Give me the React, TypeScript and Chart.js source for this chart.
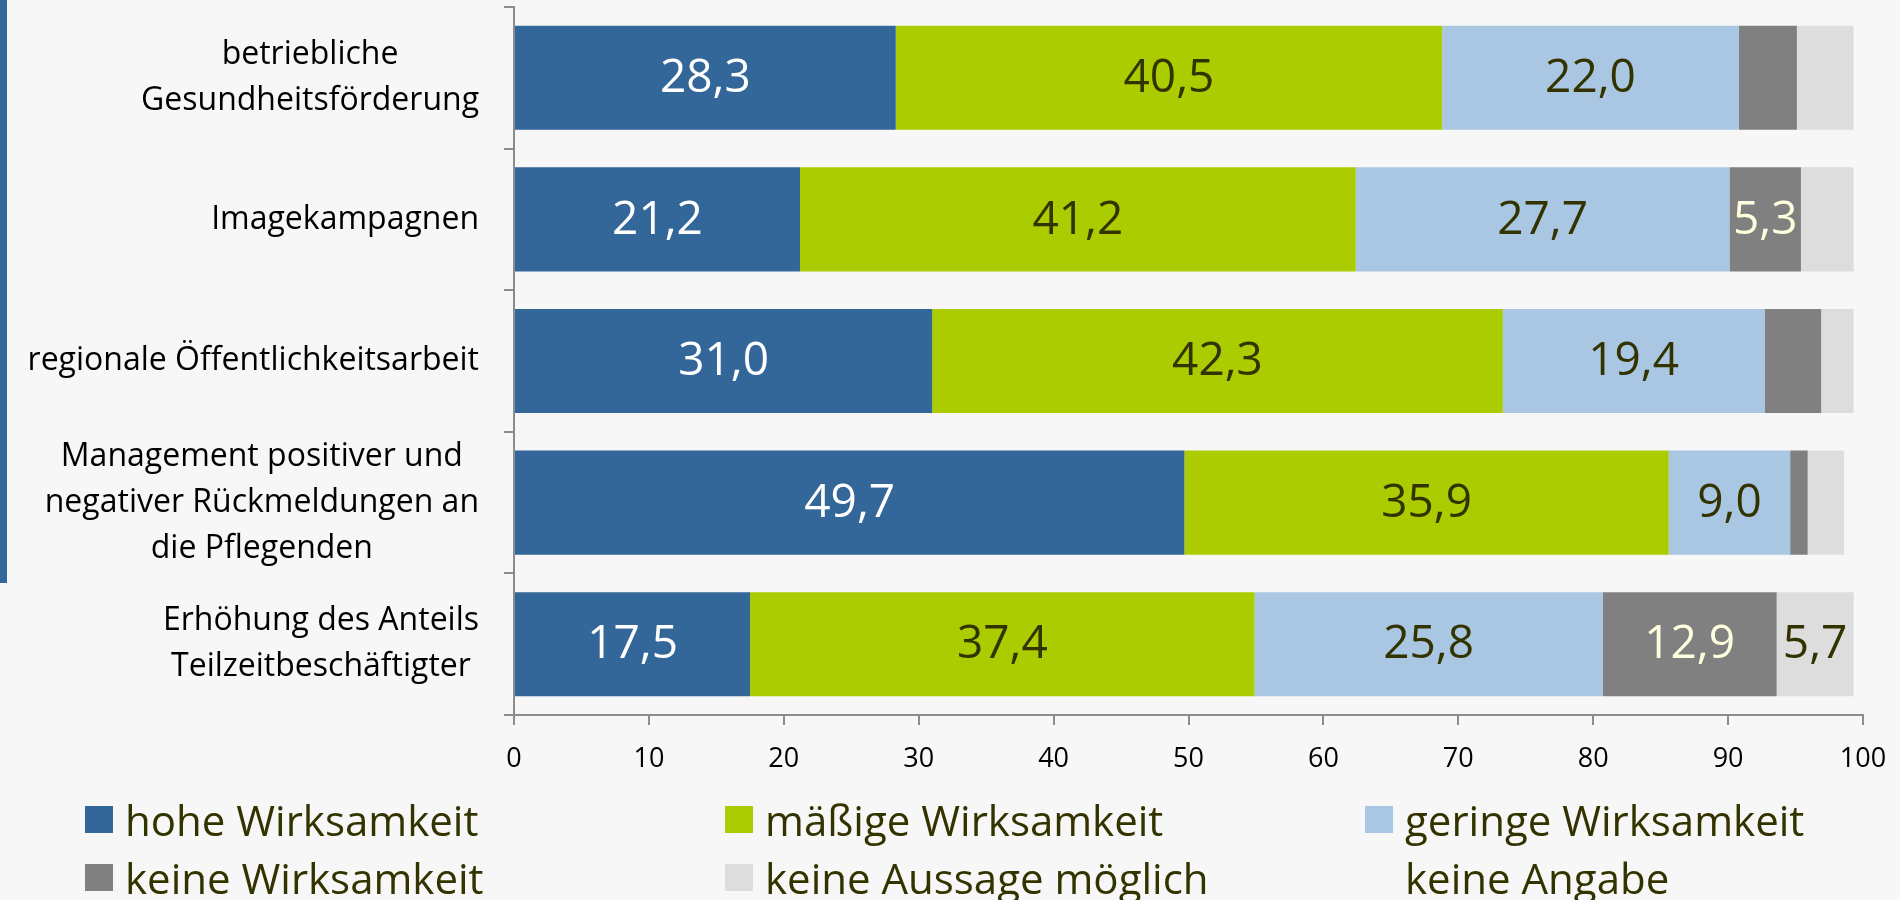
import React, { useEffect, useRef } from "react";
import { Chart, registerables } from "chart.js";

Chart.register(...registerables);

const categories: string[][] = [
  ["betriebliche", "Gesundheitsförderung"],
  ["Imagekampagnen"],
  ["regionale Öffentlichkeitsarbeit"],
  ["Management positiver und", "negativer Rückmeldungen an", "die Pflegenden"],
  ["Erhöhung des Anteils", "Teilzeitbeschäftigter"],
];

const seriesNames = [
  "hohe Wirksamkeit",
  "mäßige Wirksamkeit",
  "geringe Wirksamkeit",
  "keine Wirksamkeit",
  "keine Aussage möglich",
  "keine Angabe",
];

const hohe = [28.3, 21.2, 31.0, 49.7, 17.5];
const maessig = [40.5, 41.2, 42.3, 35.9, 37.4];
const gering = [22.0, 27.7, 19.4, 9.0, 25.8];
const keine = [4.3, 5.3, 4.2, 1.3, 12.9];
const keineAussage = [4.2, 3.9, 2.4, 2.7, 5.7];
const keineAngabe = [0.7, 0.7, 0.8, 1.3, 0.7];

const xTicks = [0, 10, 20, 30, 40, 50, 60, 70, 80, 90, 100];

const seriesColors = ["#336699", "#aacc00", "#a9c6e2", "#808080", "#dddddd", "rgba(0,0,0,0)"];
const labelColors = ["#ffffff", "#333300", "#333300", "#ffffdd", "#333300", "#333300"];

const FONT = "'Open Sans', 'Noto Sans', sans-serif";

const labelsPlugin = {
  id: "customLabels",
  afterDatasetsDraw(chart: any) {
    const ctx = chart.ctx;
    ctx.save();
    ctx.font = `46px ${FONT}`;
    ctx.textAlign = "center";
    ctx.textBaseline = "middle";
    chart.data.datasets.forEach((ds: any, di: number) => {
      const meta = chart.getDatasetMeta(di);
      meta.data.forEach((el: any, i: number) => {
        const v = ds.data[i];
        if (di > 4 || v < 5) return;
        const cx = (el.x + el.base) / 2;
        ctx.fillStyle = labelColors[di];
        ctx.fillText(v.toFixed(1).replace(".", ","), cx, el.y + 1);
      });
    });
    ctx.restore();
  },
  afterDraw(chart: any) {
    const ctx = chart.ctx;
    const yScale = chart.scales.y;
    ctx.save();
    ctx.font = `32px ${FONT}`;
    ctx.textAlign = "center";
    ctx.textBaseline = "middle";
    ctx.fillStyle = "#000000";
    const rightEdge = 479;
    const lh = 46;
    categories.forEach((lines, i) => {
      const yc = yScale.getPixelForValue(i);
      const maxW = Math.max(...lines.map((l) => ctx.measureText(l).width));
      const cx = rightEdge - maxW / 2;
      lines.forEach((line, j) => {
        ctx.fillText(line, cx, yc + (j - (lines.length - 1) / 2) * lh);
      });
    });
    ctx.restore();
  },
};

function ChartView() {
  const ref = useRef<HTMLCanvasElement | null>(null);
  useEffect(() => {
    if (!ref.current) return;
    const values = [hohe, maessig, gering, keine, keineAussage, keineAngabe];
    const chart = new Chart(ref.current, {
      type: "bar",
      data: {
        labels: categories.map((c) => c.join(" ")),
        datasets: values.map((d, i) => ({
          label: seriesNames[i],
          data: d,
          backgroundColor: seriesColors[i],
          borderWidth: 0,
          barPercentage: 0.735,
          categoryPercentage: 1,
        })),
      },
      options: {
        indexAxis: "y",
        animation: false,
        responsive: false,
        devicePixelRatio: 1,
        layout: { padding: { top: 7, right: 37, left: 0, bottom: 0 } },
        plugins: {
          legend: { display: false },
          tooltip: { enabled: false },
          title: { display: false },
        },
        scales: {
          x: {
            stacked: true,
            min: 0,
            max: 100,
            afterBuildTicks: (axis: any) => {
              axis.ticks = xTicks.map((v) => ({ value: v }));
            },
            grid: {
              display: true,
              drawOnChartArea: false,
              drawTicks: true,
              tickLength: 10,
              color: "#8c8c8c",
              lineWidth: 2,
            },
            border: { display: true, color: "#8c8c8c", width: 2 },
            ticks: {
              color: "#000000",
              font: { family: FONT, size: 27 },
              padding: 18,
              maxRotation: 0,
            },
            afterFit: (axis: any) => {
              axis.height = 85;
              axis.paddingLeft = 0;
              axis.paddingRight = 0;
            },
          },
          y: {
            stacked: true,
            grid: {
              display: true,
              drawOnChartArea: false,
              drawTicks: true,
              tickLength: 10,
              color: "#8c8c8c",
              lineWidth: 2,
              offset: true,
            },
            border: { display: true, color: "#8c8c8c", width: 2 },
            ticks: { display: false },
            afterFit: (axis: any) => {
              axis.width = 514;
              axis.paddingTop = 0;
              axis.paddingBottom = 0;
            },
          },
        },
      } as any,
      plugins: [labelsPlugin],
    });
    return () => chart.destroy();
  }, []);
  return (
    <canvas
      ref={ref}
      width={1900}
      height={800}
      style={{ position: "absolute", left: 0, top: 0, width: 1900, height: 800 }}
    />
  );
}

export default function App() {
  const legendCols = [85, 725, 1365];
  const legendRows = [820, 878];
  return (
    <div
      style={{
        position: "fixed",
        left: 0,
        top: 0,
        width: 1900,
        height: 900,
        background: "#f7f7f7",
        overflow: "hidden",
        fontFamily: FONT,
      }}
    >
      <div style={{ position: "absolute", left: 0, top: 0, width: 7, height: 583, background: "#336699" }} />
      <ChartView />
      {seriesNames.map((name, i) => {
        const col = legendCols[i % 3];
        const row = legendRows[Math.floor(i / 3)];
        const hasSwatch = i < 5;
        return (
          <div key={name}>
            {hasSwatch && (
              <div
                style={{
                  position: "absolute",
                  left: col,
                  top: row - 14,
                  width: 28,
                  height: 27,
                  background: seriesColors[i],
                }}
              />
            )}
            <div
              style={{
                position: "absolute",
                left: col + 40,
                top: row - 30,
                height: 60,
                lineHeight: "60px",
                fontSize: 42,
                color: "#333300",
                whiteSpace: "nowrap",
              }}
            >
              {name}
            </div>
          </div>
        );
      })}
    </div>
  );
}
